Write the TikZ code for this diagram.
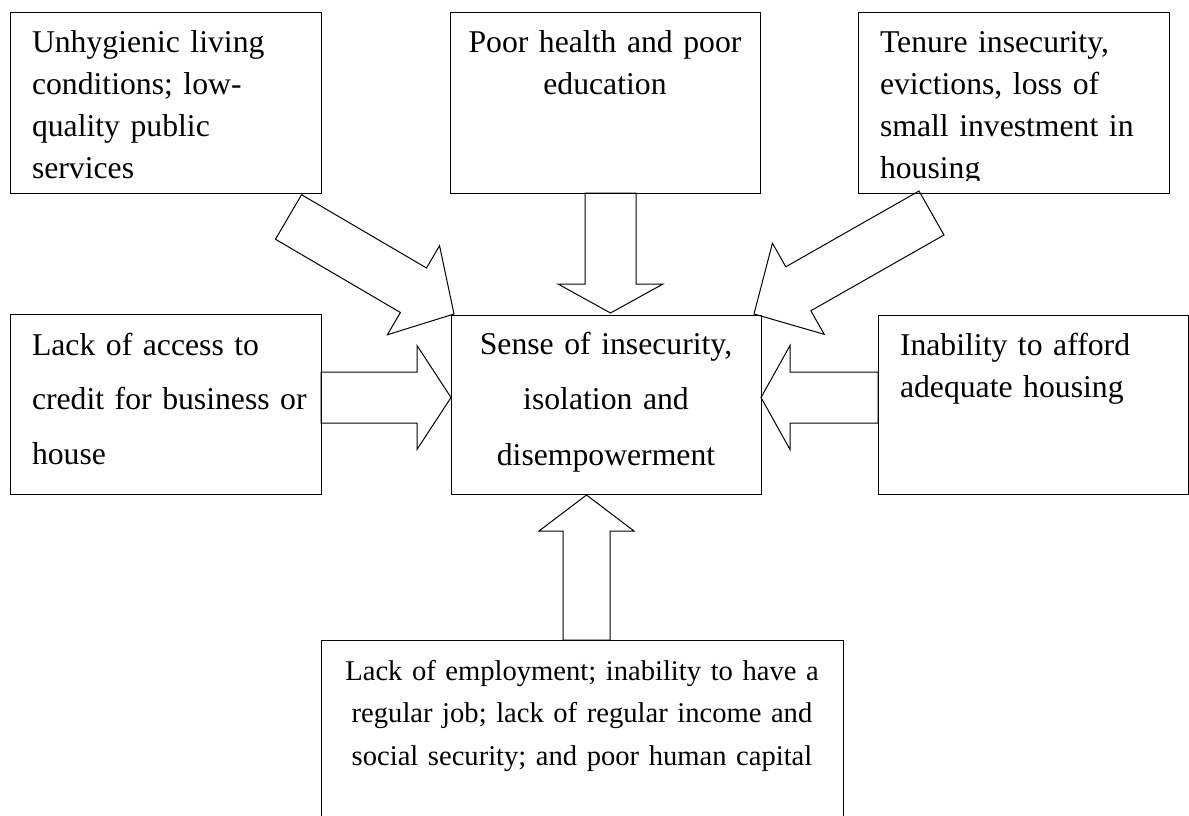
\documentclass[tikz,border=0pt]{standalone}
\usepackage{fontspec}
\setmainfont{Liberation Serif}
\usetikzlibrary{calc}
\tikzset{
  box/.style={draw, line width=1pt, anchor=north west, inner ysep=0pt, inner xsep=22pt, outer sep=0pt},
  lbox/.style={box, align=left},
  cbox/.style={box, align=center, inner xsep=5pt},
  barrow/.style={draw, line width=1pt, line join=miter},
}
\newcommand{\fsz}[2]{\fontsize{#1}{#2}\selectfont}
\newcommand{\oneline}[1]{\mbox{#1}}
\newcommand{\blockarrow}[6]{%
  \coordinate (#6b) at ($(#2)!#5!(#1)$);
  \draw[barrow] ($(#1)!#3!90:(#2)$) -- ($(#6b)!#3!-90:(#1)$) -- ($(#6b)!#4!-90:(#1)$) -- (#2)
    -- ($(#6b)!#4!90:(#1)$) -- ($(#6b)!#3!90:(#1)$) -- ($(#1)!#3!-90:(#2)$) -- cycle;}
\begin{document}
\begin{tikzpicture}[x=1pt,y=-1pt]
\useasboundingbox (0,0) rectangle (1189,816);
% boxes
\node[lbox, text width=267pt, text height=40pt, text depth=140pt, font=\fsz{31.7}{41.7}] (tl) at (10,13)
  {\oneline{Unhygienic living}\\\oneline{conditions; low-}\\\oneline{quality public}\\\oneline{services}};
\node[cbox, text width=300pt, text height=40pt, text depth=140pt, font=\fsz{31.7}{41.7}] (tm) at (450,13)
  {\oneline{Poor health and poor}\\\oneline{education}};
\node[lbox, text width=267pt, text height=40pt, text depth=140pt, font=\fsz{31.7}{41.7}] (tr) at (858,13)
  {\oneline{Tenure insecurity,}\\\oneline{evictions, loss of}\\\oneline{small investment in}\\\oneline{housing}};
\fill[white] (875,180.6) rectangle (990,190.5);
\node[lbox, text width=267pt, text height=41pt, text depth=139pt, font=\fsz{31.7}{54.5}] (ml) at (10,314)
  {\oneline{Lack of access to}\\\oneline{credit for business or}\\\oneline{house}};
\node[cbox, text width=300pt, text height=39pt, text depth=140pt, font=\fsz{31.7}{55.5}] (c) at (451,315)
  {\oneline{Sense of insecurity,}\\\oneline{isolation and}\\\oneline{disempowerment}};
\node[lbox, text width=266pt, text height=40pt, text depth=139pt, font=\fsz{31.7}{42}] (mr) at (878,315)
  {\oneline{Inability to afford}\\\oneline{adequate housing}};
\node[cbox, text width=512pt, text height=40pt, text depth=190pt, font=\fsz{28.6}{42.5}] (bt) at (321,640)
  {\oneline{Lack of employment; inability to have a}\\\oneline{regular job; lack of regular income and}\\\oneline{social security; and poor human capital}};
% arrow end points
\coordinate (a1t) at (288.5,217);
\coordinate (a1p) at (454,314);
\coordinate (a2p) at (610.5,313);
\coordinate (a2t) at (a2p |- tm.south);
\coordinate (a3t) at (931.5,213);
\coordinate (a3p) at (754,314);
\coordinate (a4y) at (0,397.5);
\coordinate (a4p) at (c.west |- a4y);
\coordinate (a4t) at (ml.east |- a4y);
\coordinate (a5p) at (c.east |- a4y);
\coordinate (a5t) at (mr.west |- a4y);
\coordinate (a6p) at (586.5,495);
\coordinate (a6t) at (a6p |- bt.north);
% block arrows
\blockarrow{a1t}{a1p}{25.8pt}{51.6pt}{47pt}{a1}
\blockarrow{a2t}{a2p}{25.5pt}{52.5pt}{29pt}{a2}
\blockarrow{a3t}{a3p}{25.3pt}{52.4pt}{51pt}{a3}
\blockarrow{a4t}{a4p}{25.5pt}{52pt}{34pt}{a4}
\blockarrow{a5t}{a5p}{25.5pt}{52pt}{29pt}{a5}
\blockarrow{a6t}{a6p}{23.5pt}{47.5pt}{36pt}{a6}
\end{tikzpicture}
\end{document}
